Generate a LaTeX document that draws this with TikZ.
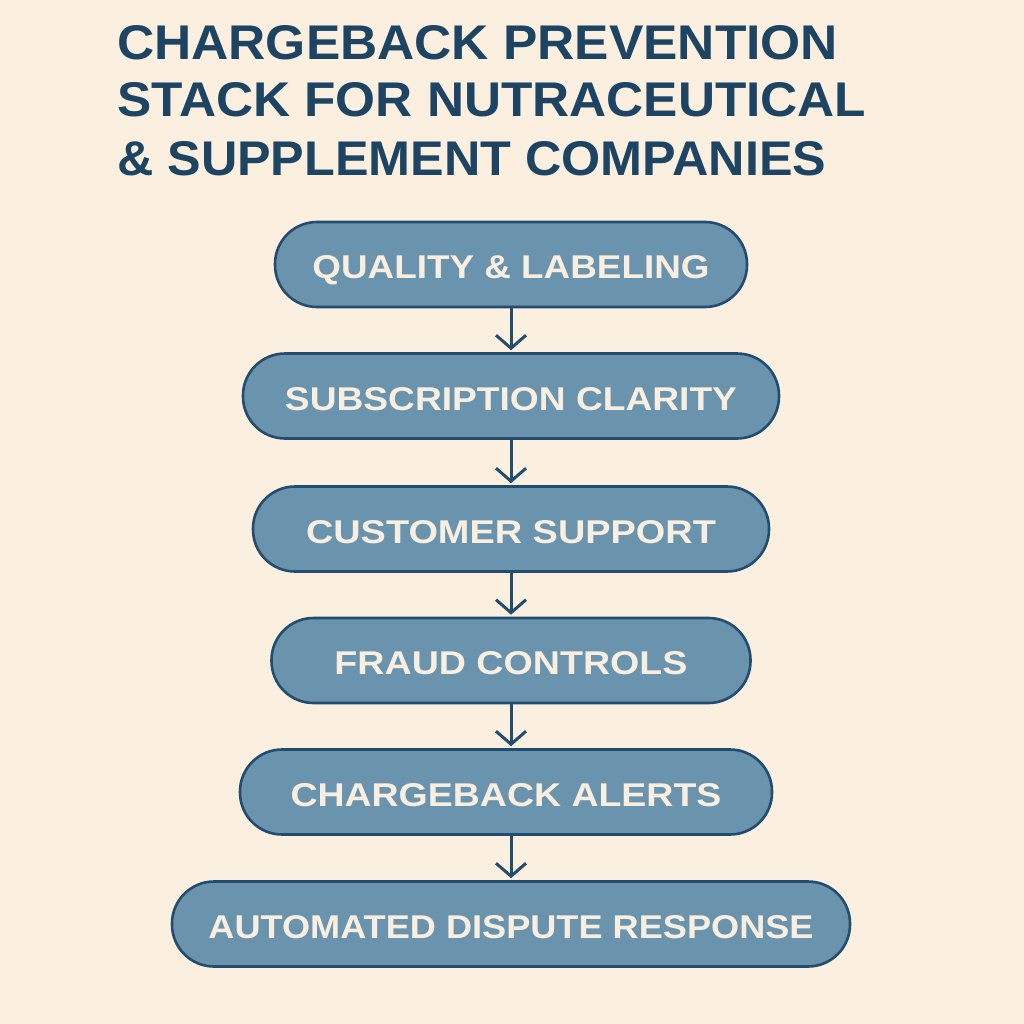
\documentclass[tikz,border=0pt]{standalone}
\usepackage{fontspec}
\usepackage{graphicx}
\usetikzlibrary{arrows.meta}
\newfontfamily\hfont{Liberation Sans}
\definecolor{bgc}{HTML}{FBEFE0}
\definecolor{boxfill}{HTML}{6A93AE}
\definecolor{boxline}{HTML}{234D6E}
\definecolor{titlec}{HTML}{1E4463}
\definecolor{boxtext}{HTML}{F8EFE1}
\newcommand{\fitt}[3]{\resizebox{#1pt}{#2pt}{\hfont\bfseries #3}}
\tikzset{
  stackbox/.style={draw=boxline, line width=2.6pt, fill=boxfill, rounded corners=42pt,
    minimum height=85pt, inner sep=0pt, text=boxtext, text height=28pt, text depth=0pt},
  titleline/.style={anchor=base west, inner sep=0pt, text=titlec},
  flowarrow/.style={draw=boxline, line width=3pt, -{Straight Barb[length=13pt,width=30pt,line width=3pt]}, shorten >=2pt}
}
\begin{document}
\begin{tikzpicture}[x=1pt,y=-1pt]
\fill[bgc] (0,0) rectangle (1024,1024);
\useasboundingbox (0,0) rectangle (1024,1024);
\node[titleline] (t1) at (117,60) {\fitt{721}{34}{CHARGEBACK PREVENTION}};
\node[titleline] (t2) at (117,117) {\fitt{749}{34}{STACK FOR NUTRACEUTICAL}};
\node[titleline] (t3) at (117,176) {\fitt{709}{34}{\& SUPPLEMENT COMPANIES}};

\node[stackbox, minimum width=472pt] (b1) at (511,264.5) {\fitt{397}{23}{QUALITY \& LABELING}};
\node[stackbox, minimum width=536pt] (b2) at (511,396) {\fitt{452}{23}{SUBSCRIPTION CLARITY}};
\node[stackbox, minimum width=516pt] (b3) at (511,529) {\fitt{410}{23}{CUSTOMER SUPPORT}};
\node[stackbox, minimum width=479pt] (b4) at (511,660.5) {\fitt{353}{23}{FRAUD CONTROLS}};
\node[stackbox, minimum width=532pt] (b5) at (506,792) {\fitt{431}{23}{CHARGEBACK ALERTS}};
\node[stackbox, minimum width=678pt] (b6) at (511,924) {\fitt{605}{23}{AUTOMATED DISPUTE RESPONSE}};

\draw[flowarrow] (b1.south -| 511,0) -- (b2.north -| 511,0);
\draw[flowarrow] (b2.south -| 511,0) -- (b3.north -| 511,0);
\draw[flowarrow] (b3.south -| 511,0) -- (b4.north -| 511,0);
\draw[flowarrow] (b4.south -| 511,0) -- (b5.north -| 511,0);
\draw[flowarrow] (b5.south -| 511,0) -- (b6.north -| 511,0);
\end{tikzpicture}
\end{document}
